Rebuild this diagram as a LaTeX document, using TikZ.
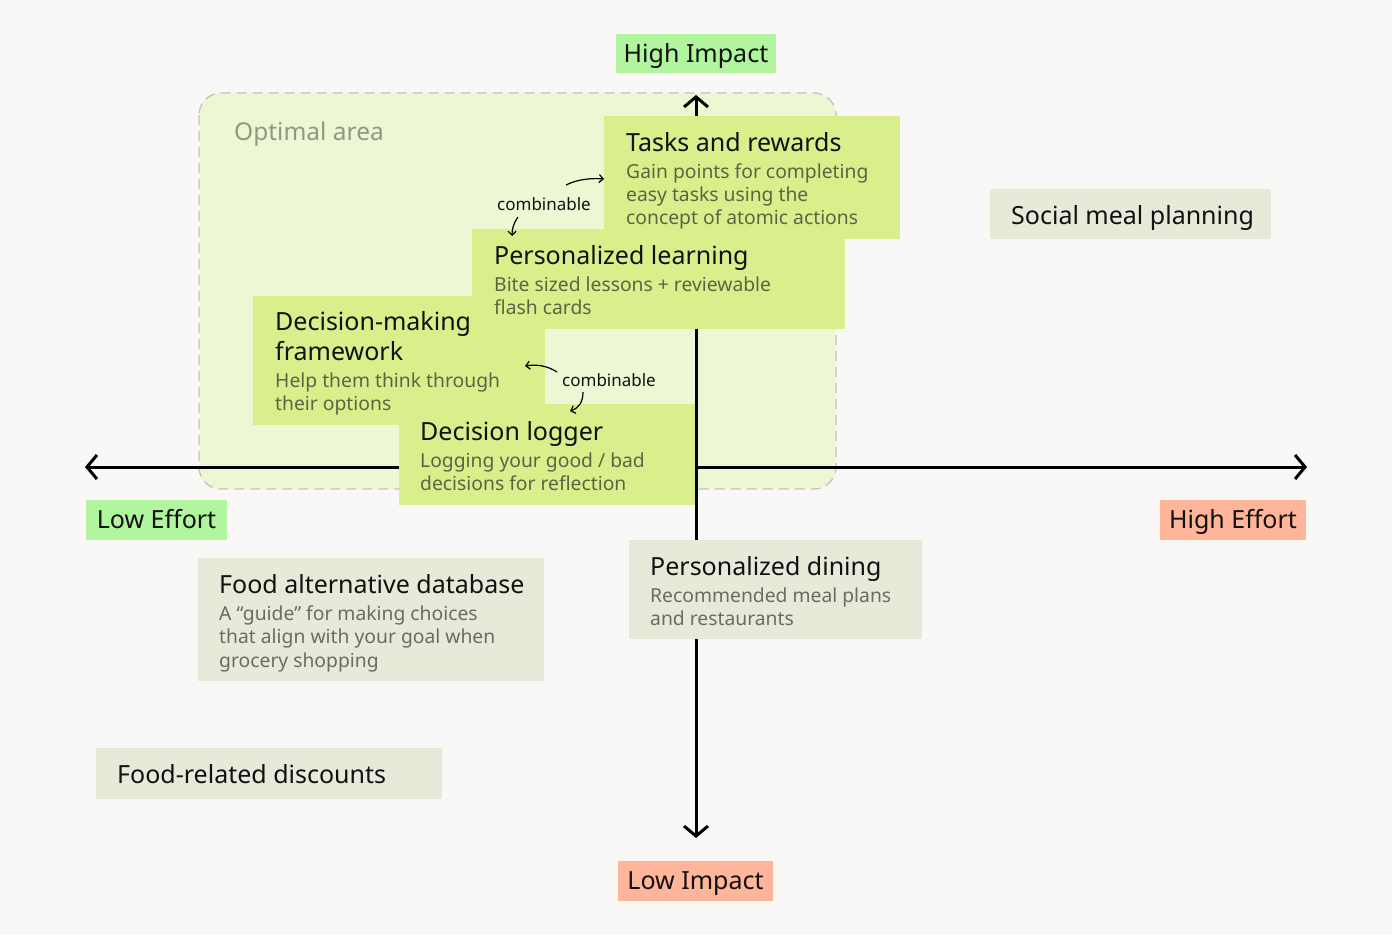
\documentclass[tikz,border=0pt]{standalone}
\usepackage{fontspec}
\setmainfont{Noto Sans}
\usetikzlibrary{arrows.meta}
\definecolor{bg}{HTML}{F9F8F6}
\definecolor{lowgreen}{HTML}{B1F59E}
\definecolor{salmon}{HTML}{FFB59A}
\definecolor{optfill}{HTML}{EEF7D4}
\definecolor{optline}{HTML}{C2C4BA}
\definecolor{optext}{HTML}{8C9A82}
\definecolor{cardgreen}{HTML}{D8EF8C}
\definecolor{cardgray}{HTML}{E6EAD9}
\definecolor{bodygreen}{HTML}{5B6544}
\definecolor{bodygray}{HTML}{6A6B64}
\definecolor{ink}{HTML}{111111}
\tikzset{
  card/.style={rectangle, inner sep=0pt, anchor=north west},
  greencard/.style={card, fill=cardgreen},
  graycard/.style={card, fill=cardgray},
  title/.style={anchor=base west, inner sep=0pt, text=ink, font=\fontsize{25}{30}\selectfont},
  body/.style={anchor=base west, inner sep=0pt, font=\fontsize{19.3}{23}\selectfont},
  gbody/.style={body, text=bodygreen},
  ybody/.style={body, text=bodygray},
  axislabel/.style={rectangle, inner sep=0pt, text=ink, text height=17.5pt, text depth=0pt, font=\fontsize{25}{30}\selectfont},
  axis/.style={line width=3pt, draw=black, arrows={Straight Barb[length=10pt,width=24pt,line width=3pt]-Straight Barb[length=10pt,width=24pt,line width=3pt]}},
  combo/.style={inner sep=0pt, text=ink, font=\fontsize{17}{20}\selectfont},
  comboarrow/.style={line width=1.2pt, -{Straight Barb[length=4pt,width=8pt]}},
}
\begin{document}
\begin{tikzpicture}[x=1pt,y=-1pt]
\path[use as bounding box, fill=bg] (0,0) rectangle (1392,935);

% optimal area
\draw[fill=optfill, draw=optline, line width=1.3pt, dash pattern=on 10pt off 6pt, rounded corners=22pt] (199,93) rectangle (836,489);
\node[anchor=base west, inner sep=0pt, text=optext, font=\fontsize{24.5}{29}\selectfont] (opt) at (234,140) {Optimal area};

% axes
\coordinate (top) at (696,95);
\coordinate (bottom) at (696,838);
\coordinate (left) at (85,467);
\coordinate (right) at (1307,467);
\draw[axis] (top) -- (bottom);
\draw[axis] (left) -- (right);

% axis labels
\node[axislabel, fill=lowgreen, minimum width=160pt, minimum height=39pt] (hi) at (696,53.5) {High Impact};
\node[axislabel, fill=lowgreen, minimum width=141pt, minimum height=40pt] (le) at (156.5,520) {Low Effort};
\node[axislabel, fill=salmon, minimum width=146pt, minimum height=40pt] (he) at (1233,520) {High Effort};
\node[axislabel, fill=salmon, minimum width=155pt, minimum height=40pt] (li) at (695.5,881) {Low Impact};

% Decision-making framework
\node[greencard, minimum width=292pt, minimum height=129pt] (dm) at (253,296) {};
\node[title] (dmt1) at (275,330) {Decision-making};
\node[title] (dmt2) at (275,360) {framework};
\node[gbody] (dm1) at (275,387) {Help them think through};
\node[gbody] (dm2) at (275,410) {their options};

% Tasks and rewards
\node[greencard, minimum width=296pt, minimum height=123pt] (tr) at (604,116) {};
\node[title] (trt) at (626,151) {Tasks and rewards};
\node[gbody] (tr1) at (626,178) {Gain points for completing};
\node[gbody] (tr2) at (626,201) {easy tasks using the};
\node[gbody] (tr3) at (626,224) {concept of atomic actions};

% Personalized learning
\node[greencard, minimum width=373pt, minimum height=100pt] (pl) at (472,229) {};
\node[title] (plt) at (494,264) {Personalized learning};
\node[gbody] (pl1) at (494,291) {Bite sized lessons + reviewable};
\node[gbody] (pl2) at (494,314) {flash cards};

% Decision logger
\node[greencard, minimum width=296pt, minimum height=101pt] (dl) at (399,404) {};
\node[title] (dlt) at (420,440) {Decision logger};
\node[gbody] (dl1) at (420,467) {Logging your good / bad};
\node[gbody] (dl2) at (420,490) {decisions for reflection};

% Social meal planning
\node[graycard, minimum width=281pt, minimum height=50pt] (sm) at (990,189) {};
\node[title] (smt) at (1011,224) {Social meal planning};

% Personalized dining
\node[graycard, minimum width=293pt, minimum height=99pt] (pd) at (629,540) {};
\node[title] (pdt) at (650,575) {Personalized dining};
\node[ybody] (pd1) at (650,602) {Recommended meal plans};
\node[ybody] (pd2) at (650,625) {and restaurants};

% Food alternative database
\node[graycard, minimum width=346pt, minimum height=123pt] (fa) at (198,558) {};
\node[title] (fat) at (219,593) {Food alternative database};
\node[ybody] (fa1) at (219,620) {A “guide” for making choices};
\node[ybody] (fa2) at (219,643) {that align with your goal when};
\node[ybody] (fa3) at (219,667) {grocery shopping};

% Food-related discounts
\node[graycard, minimum width=346pt, minimum height=51pt] (fd) at (96,748) {};
\node[title] (fdt) at (117,783) {Food-related discounts};

% combinable 1
\node[combo] (c1) at (544,204) {combinable};
\coordinate (c1a) at (566,185);
\coordinate (c1b) at (604,179);
\coordinate (c1c) at (518,217);
\coordinate (c1d) at (512,236);
\draw[comboarrow] (c1a) .. controls (578,179) and (592,178) .. (c1b);
\draw[comboarrow] (c1c) .. controls (513,224) and (512,230) .. (c1d);

% combinable 2
\node[combo] (c2) at (609,380) {combinable};
\coordinate (c2a) at (557,372);
\coordinate (c2b) at (525,366);
\coordinate (c2c) at (583,392);
\coordinate (c2d) at (570,411);
\draw[comboarrow] (c2a) .. controls (548,366) and (537,364) .. (c2b);
\draw[comboarrow] (c2c) .. controls (583,402) and (579,408) .. (c2d);
\end{tikzpicture}
\end{document}
